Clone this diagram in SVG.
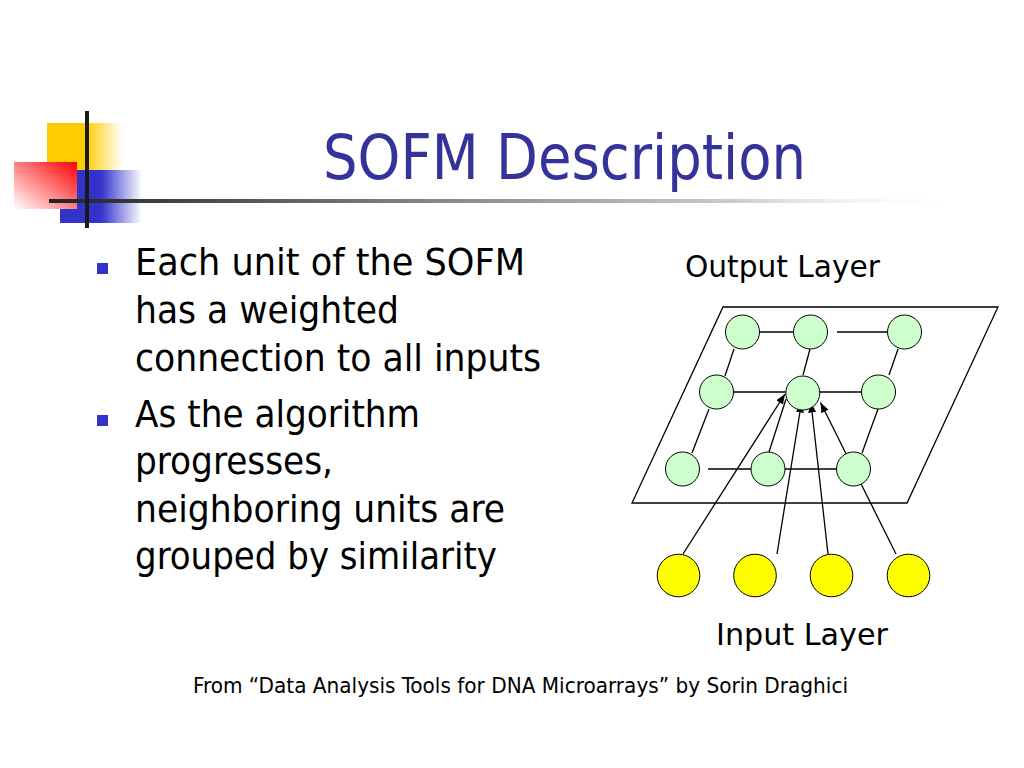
<svg xmlns="http://www.w3.org/2000/svg" width="1024" height="768" viewBox="0 0 1024 768">
<style>
.body{font-family:"DejaVu Sans Condensed","DejaVu Sans",sans-serif;font-size:38px;fill:#000}
.title{font-family:"DejaVu Sans Condensed","DejaVu Sans",sans-serif;font-size:63px;fill:#333399}
.lbl{font-family:"DejaVu Sans Condensed","DejaVu Sans",sans-serif;font-size:30px;fill:#000}
.foot{font-family:"DejaVu Sans Condensed","DejaVu Sans",sans-serif;font-size:22px;fill:#000}
.out{fill:#CCFFCC;stroke:#000;stroke-width:1}
.in{fill:#FFFF00;stroke:#000;stroke-width:1}
.ln{stroke:#000;stroke-width:1.3;fill:none}
.arr{stroke:#000;stroke-width:1.3;fill:none;marker-end:url(#ah)}
.bullet{fill:#3333CC}
</style>
<defs>
<marker id="ah" markerUnits="userSpaceOnUse" markerWidth="11" markerHeight="9" refX="10" refY="4" orient="auto">
<path d="M0,0 L10,4 L0,8 z" fill="#000"/>
</marker>
<linearGradient id="gy" x1="0" y1="0" x2="1" y2="0">
<stop offset="0" stop-color="#FFCC00"/>
<stop offset="0.5" stop-color="#FFCC00"/>
<stop offset="1" stop-color="#FFCC00" stop-opacity="0"/>
</linearGradient>
<linearGradient id="gb" x1="0" y1="0" x2="1" y2="0">
<stop offset="0" stop-color="#3333CC"/>
<stop offset="0.5" stop-color="#3333CC"/>
<stop offset="1" stop-color="#3333CC" stop-opacity="0"/>
</linearGradient>
<linearGradient id="gr" x1="1" y1="0" x2="0" y2="1">
<stop offset="0" stop-color="#FF0000"/>
<stop offset="1" stop-color="#FFFFFF"/>
</linearGradient>
<linearGradient id="gl" x1="49" y1="0" x2="965" y2="0" gradientUnits="userSpaceOnUse">
<stop offset="0" stop-color="#222"/>
<stop offset="0.35" stop-color="#777"/>
<stop offset="0.75" stop-color="#ccc"/>
<stop offset="1" stop-color="#fff" stop-opacity="0"/>
</linearGradient>
</defs>
<rect width="1024" height="768" fill="#fff"/>

<g id="decoration">
<rect x="47" y="123" width="76" height="47" fill="url(#gy)"/>
<rect x="60" y="170" width="82" height="53" fill="url(#gb)"/>
<rect x="14" y="162" width="63" height="47" fill="url(#gr)"/>
<rect x="49" y="199" width="916" height="4" fill="url(#gl)"/>
<rect x="85" y="111" width="4" height="117" fill="#1a1a1a"/>
</g>

<g id="title">
<text class="title" x="323" y="179" textLength="483" lengthAdjust="spacingAndGlyphs">SOFM Description</text>
</g>

<g id="bullets">
<rect class="bullet" x="97" y="263" width="11" height="11"/>
<text class="body" x="135" y="275" textLength="390" lengthAdjust="spacingAndGlyphs">Each unit of the SOFM</text>
<text class="body" x="135" y="323" textLength="264" lengthAdjust="spacingAndGlyphs">has a weighted</text>
<text class="body" x="135" y="371" textLength="406" lengthAdjust="spacingAndGlyphs">connection to all inputs</text>
<rect class="bullet" x="97" y="415" width="11" height="11"/>
<text class="body" x="135" y="427" textLength="285" lengthAdjust="spacingAndGlyphs">As the algorithm</text>
<text class="body" x="135" y="474" textLength="198" lengthAdjust="spacingAndGlyphs">progresses,</text>
<text class="body" x="135" y="522" textLength="370" lengthAdjust="spacingAndGlyphs">neighboring units are</text>
<text class="body" x="135" y="569" textLength="362" lengthAdjust="spacingAndGlyphs">grouped by similarity</text>
</g>

<g id="output-layer-plane">
<polygon points="723,307 998,307 907,503 632,503" fill="none" stroke="#000" stroke-width="1.3"/>
</g>

<g id="connectors">
<line class="ln" x1="760" y1="332" x2="793" y2="332"/>
<line class="ln" x1="837" y1="332" x2="887" y2="332"/>
<line class="ln" x1="734" y1="392" x2="786" y2="392"/>
<line class="ln" x1="820" y1="392" x2="862" y2="392"/>
<line class="ln" x1="708" y1="469" x2="751" y2="469"/>
<line class="ln" x1="785" y1="469" x2="837" y2="469"/>
<line class="ln" x1="734" y1="349" x2="725" y2="376"/>
<line class="ln" x1="810" y1="349" x2="803" y2="375"/>
<line class="ln" x1="898" y1="349" x2="889" y2="375"/>
<line class="ln" x1="709" y1="409" x2="692" y2="453"/>
<line class="ln" x1="878" y1="409" x2="862" y2="453"/>
<line class="ln" x1="769" y1="452" x2="786" y2="399"/>
<line class="arr" x1="683" y1="554" x2="785" y2="394"/>
<line class="arr" x1="777" y1="554" x2="801.5" y2="402.5"/>
<line class="arr" x1="828" y1="554" x2="811" y2="402.5"/>
<line class="arr" x1="896" y1="554" x2="820.5" y2="402.5"/>
</g>

<g id="out-1-1"><circle class="out" cx="742.5" cy="332" r="17"/></g>
<g id="out-1-2"><circle class="out" cx="810.5" cy="332" r="17"/></g>
<g id="out-1-3"><circle class="out" cx="904.5" cy="332" r="17"/></g>
<g id="out-2-1"><circle class="out" cx="716.5" cy="392" r="17"/></g>
<g id="out-2-2"><circle class="out" cx="802.8" cy="393" r="17"/></g>
<g id="out-2-3"><circle class="out" cx="878.5" cy="392" r="17"/></g>
<g id="out-3-1"><circle class="out" cx="682.5" cy="469" r="17"/></g>
<g id="out-3-2"><circle class="out" cx="768" cy="469" r="17"/></g>
<g id="out-3-3"><circle class="out" cx="853.5" cy="469" r="17"/></g>

<g id="in-1"><circle class="in" cx="678.5" cy="575.5" r="21.3"/></g>
<g id="in-2"><circle class="in" cx="755" cy="575.5" r="21.3"/></g>
<g id="in-3"><circle class="in" cx="831.5" cy="575.5" r="21.3"/></g>
<g id="in-4"><circle class="in" cx="908.5" cy="575.5" r="21.3"/></g>

<g id="labels">
<text class="lbl" x="685" y="277" textLength="195" lengthAdjust="spacingAndGlyphs">Output Layer</text>
<text class="lbl" x="716" y="645" textLength="172" lengthAdjust="spacingAndGlyphs">Input Layer</text>
<text class="foot" x="193" y="693" textLength="655" lengthAdjust="spacingAndGlyphs">From “Data Analysis Tools for DNA Microarrays” by Sorin Draghici</text>
</g>
</svg>
